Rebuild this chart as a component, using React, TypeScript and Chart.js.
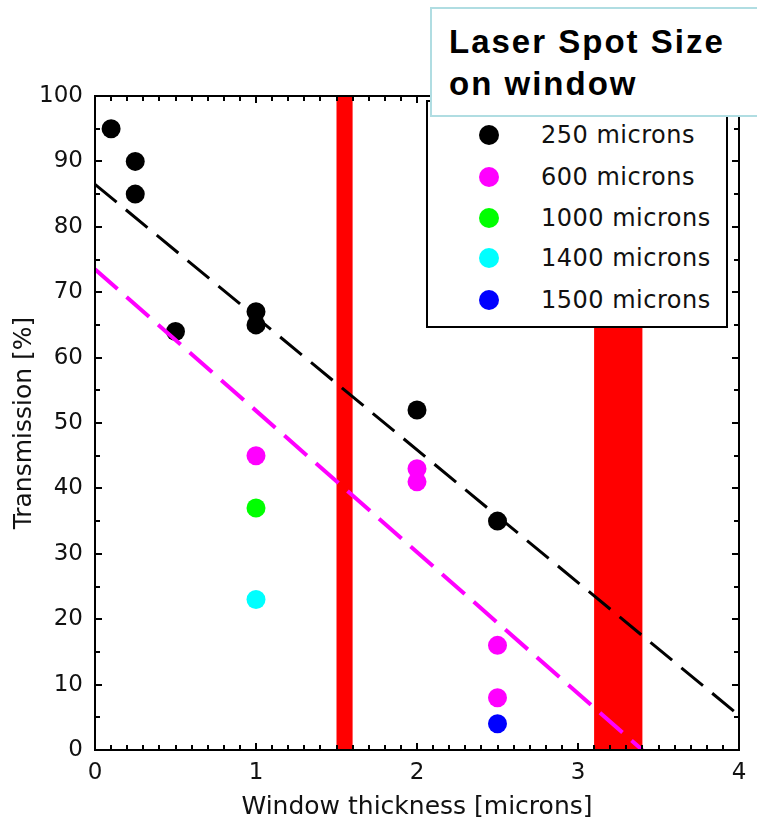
import React, { useEffect, useRef } from "react";
import { Chart, registerables } from "chart.js";

Chart.register(...registerables);

// ---- data ----
const xBlack = [0.1, 0.25, 0.25, 0.5, 1, 1, 2, 2.5];
const yBlack = [95, 90, 85, 64, 67, 65, 52, 35];
const xMagenta = [1, 2, 2, 2.5, 2.5];
const yMagenta = [45, 43, 41, 16, 8];
const xGreen = [1];
const yGreen = [37];
const xCyan = [1];
const yCyan = [23];
const xBlue = [2.5];
const yBlue = [4];
const fitBlackX = [0, 4];
const fitBlackY = [86.5, 5.3];
const fitMagentaX = [0, 3.4];
const fitMagentaY = [73.5, 0];
const bandStart = [1.5, 3.1];
const bandEnd = [1.6, 3.4];
const seriesLabels = ["250 microns", "600 microns", "1000 microns", "1400 microns", "1500 microns"];
const seriesColors = ["#000000", "#ff00ff", "#00ff00", "#00ffff", "#0000ff"];
const xTicks = [0, 1, 2, 3, 4];
const yTicks = [0, 10, 20, 30, 40, 50, 60, 70, 80, 90, 100];
const xMinorTicks = Array.from({ length: 41 }, (_, i) => i / 10);
const yMinorTicks = Array.from({ length: 21 }, (_, i) => i * 5);

const FONT = "'DejaVu Sans', 'Liberation Sans', sans-serif";
const TXT = "#111111";

const zip = (xs: number[], ys: number[]) => xs.map((x, i) => ({ x, y: ys[i] }));

const bandsPlugin = {
  id: "bands",
  beforeDatasetsDraw(chart: any) {
    const { ctx, chartArea, scales } = chart;
    const x = scales.x;
    ctx.save();
    ctx.fillStyle = "#ff0000";
    bandStart.forEach((s, i) => {
      const l = x.getPixelForValue(s);
      const r = x.getPixelForValue(bandEnd[i]);
      ctx.fillRect(l, chartArea.top, r - l, chartArea.bottom - chartArea.top);
    });
    ctx.restore();
  },
};

const framePlugin = {
  id: "frame",
  afterDatasetsDraw(chart: any) {
    const { ctx, chartArea, scales } = chart;
    const { left, right, top, bottom } = chartArea;
    const x = scales.x;
    const y = scales.y;
    ctx.save();
    ctx.strokeStyle = "#000";
    ctx.lineWidth = 2;
    ctx.beginPath();
    xMinorTicks.forEach((v) => {
      const px = Math.round(x.getPixelForValue(v));
      const major = Math.abs(v - Math.round(v)) < 1e-6;
      const len = major ? 7 : 5;
      ctx.moveTo(px, bottom);
      ctx.lineTo(px, bottom - len);
      ctx.moveTo(px, top);
      ctx.lineTo(px, top + len);
    });
    yMinorTicks.forEach((v) => {
      const py = Math.round(y.getPixelForValue(v));
      const major = v % 10 === 0;
      const len = major ? 7 : 5;
      ctx.moveTo(left, py);
      ctx.lineTo(left + len, py);
      ctx.moveTo(right, py);
      ctx.lineTo(right - len, py);
    });
    ctx.stroke();
    ctx.strokeRect(left, top, right - left, bottom - top);
    ctx.restore();
  },
};

export default function App() {
  const ref = useRef<HTMLCanvasElement | null>(null);

  useEffect(() => {
    document.body.style.margin = "0";
    if (!ref.current) return;
    const pointDs = (label: string, xs: number[], ys: number[], color: string) => ({
      type: "scatter" as const,
      label,
      data: zip(xs, ys),
      backgroundColor: color,
      borderWidth: 0,
      pointRadius: 9.5,
      pointHoverRadius: 9.5,
    });
    const chart = new Chart(ref.current, {
      type: "scatter",
      data: {
        datasets: [
          {
            type: "line",
            label: "fit 600",
            data: zip(fitMagentaX, fitMagentaY),
            borderColor: "#ff00ff",
            borderWidth: 4,
            borderDash: [30, 12],
            pointRadius: 0,
            fill: false,
          } as any,
          {
            type: "line",
            label: "fit 250",
            data: zip(fitBlackX, fitBlackY),
            borderColor: "#000000",
            borderWidth: 3,
            borderDash: [28, 12],
            pointRadius: 0,
            fill: false,
          } as any,
          pointDs(seriesLabels[0], xBlack, yBlack, seriesColors[0]),
          pointDs(seriesLabels[1], xMagenta, yMagenta, seriesColors[1]),
          pointDs(seriesLabels[2], xGreen, yGreen, seriesColors[2]),
          pointDs(seriesLabels[3], xCyan, yCyan, seriesColors[3]),
          pointDs(seriesLabels[4], xBlue, yBlue, seriesColors[4]),
        ],
      },
      options: {
        responsive: false,
        animation: false,
        events: [],
        layout: { padding: { top: 96, right: 18, left: 0, bottom: 0 } },
        plugins: { legend: { display: false }, tooltip: { enabled: false } },
        scales: {
          x: {
            type: "linear",
            min: 0,
            max: 4,
            afterBuildTicks: (s: any) => {
              s.ticks = xTicks.map((v) => ({ value: v }));
            },
            grid: { display: false, drawTicks: false },
            border: { display: false },
            ticks: {
              font: { family: FONT, size: 23 },
              color: TXT,
              padding: 9,
              maxRotation: 0,
              autoSkip: false,
            },
            title: {
              display: true,
              text: "Window thickness [microns]",
              font: { family: FONT, size: 25 },
              color: TXT,
              padding: { top: 0, bottom: 5 },
            },
            afterFit: (s: any) => {
              s.height = 77;
            },
          },
          y: {
            type: "linear",
            min: 0,
            max: 100,
            afterBuildTicks: (s: any) => {
              s.ticks = yTicks.map((v) => ({ value: v }));
            },
            grid: { display: false, drawTicks: false },
            border: { display: false },
            ticks: {
              font: { family: FONT, size: 23 },
              color: TXT,
              padding: 12,
              autoSkip: false,
            },
            title: {
              display: true,
              text: "Transmission [%]",
              font: { family: FONT, size: 25 },
              color: TXT,
              padding: { top: 9, bottom: 0 },
            },
            afterFit: (s: any) => {
              s.width = 95;
            },
          },
        },
      } as any,
      plugins: [bandsPlugin, framePlugin],
    });
    return () => chart.destroy();
  }, []);

  const rowY = [135, 177, 218, 258, 300];

  return (
    <div style={{ position: "relative", width: 757, height: 827, overflow: "hidden", background: "#fff" }}>
      <canvas ref={ref} width={757} height={827} style={{ display: "block", width: 757, height: 827 }} />
      {/* legend */}
      <div
        style={{
          position: "absolute",
          left: 426,
          top: 100,
          width: 298,
          height: 224,
          border: "2px solid #000",
          background: "#fff",
        }}
      />
      {seriesLabels.map((lab, i) => (
        <div
          key={lab}
          style={{
            position: "absolute",
            left: 479,
            top: rowY[i] - 20,
            height: 40,
            display: "flex",
            alignItems: "center",
            fontFamily: FONT,
            fontSize: 24,
            letterSpacing: 0.5,
            color: TXT,
            whiteSpace: "nowrap",
          }}
        >
          <span
            style={{
              display: "inline-block",
              width: 20,
              height: 20,
              borderRadius: 10,
              background: seriesColors[i],
              marginRight: 42,
            }}
          />
          <span>{lab}</span>
        </div>
      ))}
      {/* title box */}
      <div
        style={{
          position: "absolute",
          left: 430,
          top: 7,
          width: 340,
          height: 106,
          border: "2px solid #b0dde2",
          background: "#fff",
        }}
      />
      <div
        style={{
          position: "absolute",
          left: 449,
          top: 21,
          fontFamily: "'Liberation Sans', Arial, sans-serif",
          fontWeight: "bold",
          fontSize: 33,
          lineHeight: "42px",
          letterSpacing: 2,
          color: "#000",
          whiteSpace: "nowrap",
        }}
      >
        Laser Spot Size
        <br />
        on window
      </div>
    </div>
  );
}
